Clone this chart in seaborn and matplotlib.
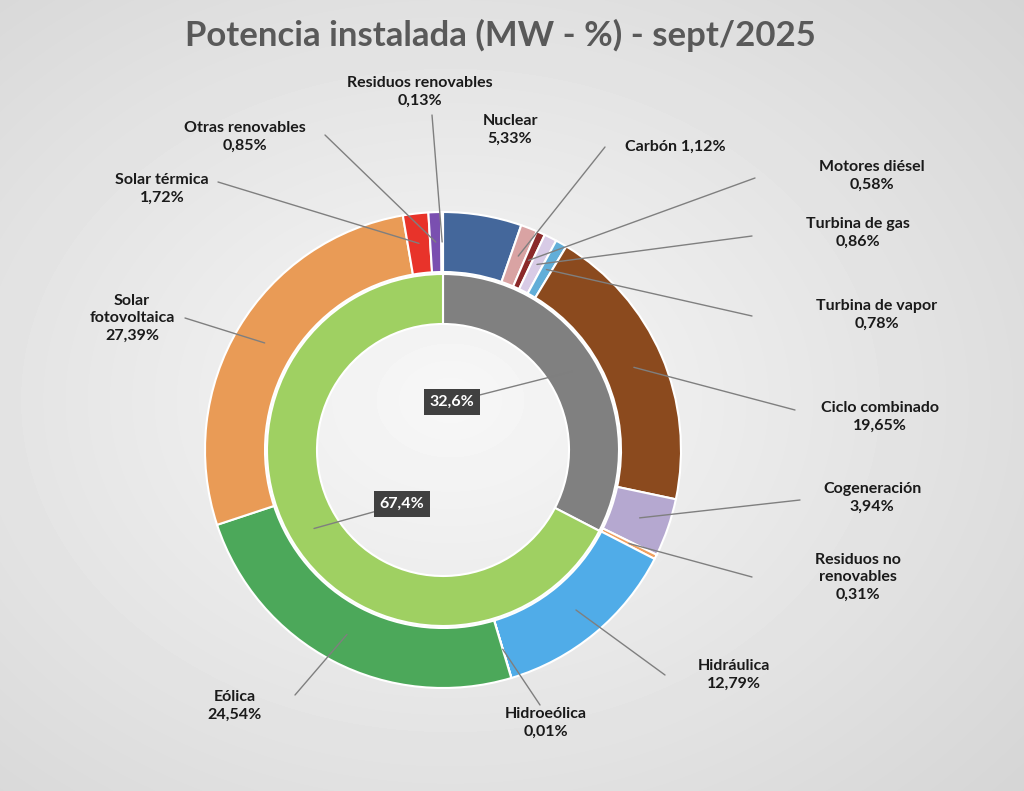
import numpy as np
import matplotlib.pyplot as plt
import seaborn as sns

sns.set_style("white")

# Datos: potencia instalada (%) - sept/2025
tecnologias = ["Nuclear", "Carbón", "Motores diésel", "Turbina de gas", "Turbina de vapor",
               "Ciclo combinado", "Cogeneración", "Residuos no renovables", "Hidráulica",
               "Hidroeólica", "Eólica", "Solar fotovoltaica", "Solar térmica",
               "Otras renovables", "Residuos renovables"]
porcentajes = [5.33, 1.12, 0.58, 0.86, 0.78, 19.65, 3.94, 0.31, 12.79,
               0.01, 24.54, 27.39, 1.72, 0.85, 0.13]
etiquetas = ["Nuclear\n5,33%", "Carbón 1,12%", "Motores diésel\n0,58%", "Turbina de gas\n0,86%",
             "Turbina de vapor\n0,78%", "Ciclo combinado\n19,65%", "Cogeneración\n3,94%",
             "Residuos no\nrenovables\n0,31%", "Hidráulica\n12,79%", "Hidroeólica\n0,01%",
             "Eólica\n24,54%", "Solar\nfotovoltaica\n27,39%", "Solar térmica\n1,72%",
             "Otras renovables\n0,85%", "Residuos renovables\n0,13%"]
colores = ["#44679b", "#d9a3a3", "#8b2a2a", "#d8cbe6", "#62aed8", "#8b4a1e", "#b5a8d0",
           "#f0a060", "#50ace8", "#3f8fd0", "#4ca85a", "#e99b56", "#e8332a", "#7a4fb0", "#5b2f8f"]

grupos = ["No renovable", "Renovable"]
grupo_pct = [32.6, 67.4]
grupo_etq = ["32,6%", "67,4%"]
grupo_col = ["#808080", "#9fd062"]

# posiciones de texto y puntos de la linea guia (pixeles)
pos_texto = [(510, 130), (675, 147), (872, 176), (858, 233), (877, 315), (880, 417),
             (872, 498), (858, 577), (734, 675), (546, 723), (235, 706), (132, 318),
             (162, 189), (245, 137), (420, 92)]
pos_guia = [None, (605, 147), (755, 178), (752, 236), (752, 316), (795, 410),
            (800, 500), (752, 577), (665, 675), (540, 705), (295, 695), (185, 318),
            (218, 182), (325, 135), (432, 115)]

W, H = 1024, 791
fig = plt.figure(figsize=(W / 100, H / 100), dpi=100)
ax = fig.add_axes([0, 0, 1, 1])
ax.set_xlim(0, W)
ax.set_ylim(0, H)
ax.axis("off")

# fondo degradado
yy, xx = np.mgrid[0:H, 0:W]
d = np.sqrt(((xx - 450) / W) ** 2 + ((yy - 400) / H) ** 2)
ax.imshow(0.97 - 0.18 * d, cmap="gray", vmin=0, vmax=1, extent=[0, W, 0, H], zorder=0)

cx, cy, R = 443, 341, 238
wo, _ = ax.pie(porcentajes, colors=colores, startangle=90, counterclock=False,
               radius=R, center=(cx, cy), frame=True,
               wedgeprops=dict(width=60, edgecolor="white", linewidth=1.5))
wi, _ = ax.pie(grupo_pct, colors=grupo_col, startangle=90, counterclock=False,
               radius=R - 62, center=(cx, cy), frame=True,
               wedgeprops=dict(width=50, edgecolor="white", linewidth=1.5))
ax.set_xlim(0, W)
ax.set_ylim(0, H)
ax.axis("off")

fuente = dict(fontfamily="Lato", fontweight="bold", color="#1a1a1a", fontsize=11.5)
for w, txt, pt, pg in zip(wo, etiquetas, pos_texto, pos_guia):
    ang = np.deg2rad((w.theta1 + w.theta2) / 2)
    r = R - 30
    px, py = cx + r * np.cos(ang), cy + r * np.sin(ang)
    ax.text(pt[0], H - pt[1], txt, ha="center", va="center", linespacing=1.3, **fuente)
    if pg is not None:
        ax.plot([pg[0], px], [H - pg[1], py], color="#7f7f7f", lw=1)

for w, txt, pt in zip(wi, grupo_etq, [(452, 402), (402, 504)]):
    ang = np.deg2rad((w.theta1 + w.theta2) / 2)
    r = R - 62 - 25
    px, py = cx + r * np.cos(ang), cy + r * np.sin(ang)
    ax.plot([pt[0], px], [H - pt[1], py], color="#7f7f7f", lw=1)
    ax.text(pt[0], H - pt[1], txt, ha="center", va="center", fontfamily="Lato",
            fontweight="bold", fontsize=11.5, color="white",
            bbox=dict(boxstyle="square,pad=0.35", fc="#404040", ec="none"))

ax.text(500, H - 35, "Potencia instalada (MW - %) - sept/2025", ha="center", va="center",
        fontfamily="Lato", fontweight="bold", fontsize=25, color="#595959")

fig.savefig("out.png", dpi=100)
